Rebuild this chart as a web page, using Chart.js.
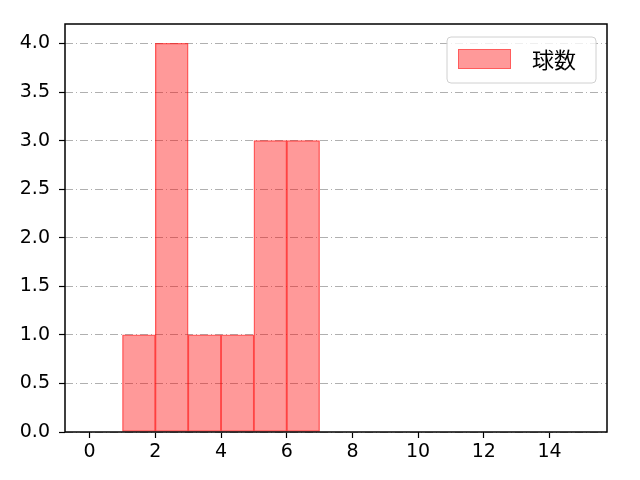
<!DOCTYPE html>
<html>
<head>
<meta charset="utf-8">
<script src="https://cdn.jsdelivr.net/npm/chart.js@4"></script>
<style>
  html, body { margin: 0; padding: 0; background: #fff; }
  #wrap { width: 640px; height: 480px; }
</style>
</head>
<body>
<div id="wrap"><canvas id="histChart" width="640" height="480"></canvas></div>
<script>
// histogram data
const seriesLabel = '球数'
const binLefts = [1, 2, 3, 4, 5, 6]
const binWidth = 1
const counts = [1, 4, 1, 1, 3, 3]
const xTicks = [0, 2, 4, 6, 8, 10, 12, 14]
const yTicks = [0, 0.5, 1, 1.5, 2, 2.5, 3, 3.5, 4]

const TICK_FONT = '"DejaVu Sans", sans-serif'
const CJK_FONT = '"Noto Sans CJK JP", sans-serif'

// black frame around the plot area
const framePlugin = {
    id: 'frame',
    afterDraw(chart) {
        const { ctx, chartArea: a } = chart
        ctx.save()
        ctx.strokeStyle = '#000'
        ctx.lineWidth = 1.5
        ctx.strokeRect(a.left, a.top, a.right - a.left, a.bottom - a.top)
        ctx.restore()
    }
}

// matplotlib-like legend in the upper right
const legendPlugin = {
    id: 'mplLegend',
    afterDraw(chart) {
        const { ctx, chartArea: a } = chart
        const ds = chart.data.datasets[0]
        const x = a.right - 160, y = a.top + 13, w = 149, h = 46
        ctx.save()
        ctx.beginPath()
        ctx.roundRect(x, y, w, h, 4)
        ctx.fillStyle = 'rgba(255,255,255,0.8)'
        ctx.fill()
        ctx.strokeStyle = '#d0d0d0'
        ctx.lineWidth = 1
        ctx.stroke()
        ctx.fillStyle = ds.backgroundColor
        ctx.fillRect(x + 11, y + 12, 53, 20)
        ctx.strokeStyle = 'rgba(255, 0, 0, 0.4)'
        ctx.strokeRect(x + 11.5, y + 12.5, 52, 19)
        ctx.fillStyle = '#000'
        ctx.font = '22px ' + CJK_FONT
        ctx.textBaseline = 'middle'
        ctx.fillText(ds.label, x + 85, y + 23)
        ctx.restore()
    }
}

const ctx = document.getElementById('histChart').getContext('2d')
const histChart = new Chart(ctx, {
    type: 'bar',
    data: {
        datasets: [{
            label: seriesLabel,
            data: binLefts.map((l, i) => ({ x: l + binWidth / 2, y: counts[i] })),
            backgroundColor: 'rgba(255, 0, 0, 0.4)',
            borderColor: 'rgba(255, 0, 0, 0.6)',
            borderWidth: 0.6,
            borderSkipped: false,
            barPercentage: 1,
            categoryPercentage: 1
        }]
    },
    options: {
        responsive: false,
        animation: false,
        devicePixelRatio: 1,
        layout: { padding: { top: 24, right: 33, left: 0, bottom: 0 } },
        plugins: {
            legend: { display: false },
            tooltip: { enabled: false }
        },
        scales: {
            x: {
                type: 'linear',
                offset: false,
                min: -0.75,
                max: 15.75,
                afterFit: s => { s.height = 48 },
                afterBuildTicks: s => { s.ticks = xTicks.map(v => ({ value: v })) },
                border: { display: false },
                grid: {
                    offset: false,
                    drawOnChartArea: false,
                    drawTicks: true,
                    tickLength: 6,
                    tickColor: '#000',
                    tickWidth: 1.2
                },
                ticks: {
                    color: '#000',
                    padding: 3,
                    font: { family: TICK_FONT, size: 19 },
                    callback: v => String(v)
                }
            },
            y: {
                min: 0,
                max: 4.2,
                afterFit: s => { s.width = 65 },
                afterBuildTicks: s => { s.ticks = yTicks.map(v => ({ value: v })) },
                border: { display: false, dash: [8, 3, 1, 3] },
                grid: {
                    color: '#b0b0b0',
                    lineWidth: 1,
                    drawTicks: true,
                    tickLength: 6,
                    tickColor: '#000',
                    tickWidth: 1.2,
                    tickBorderDash: []
                },
                ticks: {
                    color: '#000',
                    padding: 9,
                    font: { family: TICK_FONT, size: 19 },
                    callback: v => v.toFixed(1)
                }
            }
        }
    },
    plugins: [framePlugin, legendPlugin]
})
</script>
</body>
</html>
